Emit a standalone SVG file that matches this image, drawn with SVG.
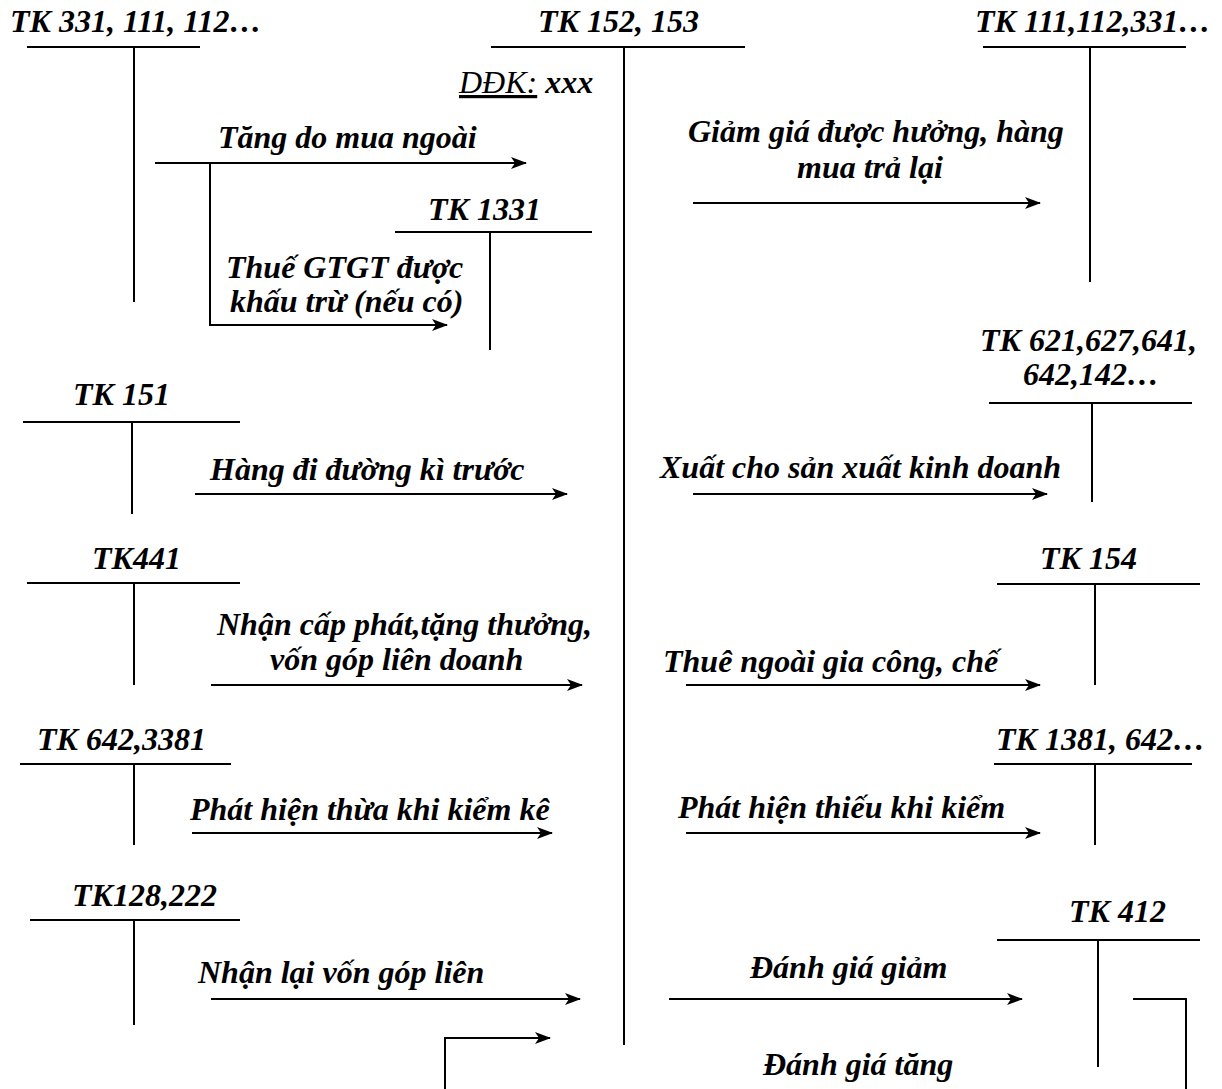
<svg xmlns="http://www.w3.org/2000/svg" width="1222" height="1089" viewBox="0 0 1222 1089">
<defs>
<style>
text{font-family:"Liberation Serif","Times New Roman",serif;font-style:italic;font-weight:bold;font-size:32px;fill:#000}
.ln{stroke:#000;stroke-width:2;fill:none}
.ar{stroke:#000;stroke-width:2;fill:none;marker-end:url(#ah)}
</style>
<marker id="ah" viewBox="0 0 16 12" refX="15" refY="6" markerWidth="16" markerHeight="12" markerUnits="userSpaceOnUse" orient="auto">
<path d="M0,0 L16,6 L0,12 L4,6 Z" fill="#000"/>
</marker>
</defs>
<rect width="1222" height="1089" fill="#fff"/>

<g id="tk331">
<text x="10" y="32">TK 331, 111, 112…</text>
<line class="ln" x1="27" y1="47" x2="200" y2="47"/>
<line class="ln" x1="134" y1="47" x2="134" y2="302"/>
</g>
<g id="tk152">
<text x="538" y="32">TK 152, 153</text>
<line class="ln" x1="491" y1="47" x2="745" y2="47"/>
<line class="ln" x1="624" y1="47" x2="624" y2="1045"/>
<text x="459" y="93"><tspan font-weight="normal" text-decoration="underline">DĐK:</tspan> xxx</text>
</g>
<g id="tk111">
<text x="975" y="32">TK 111,112,331…</text>
<line class="ln" x1="983" y1="47" x2="1186" y2="47"/>
<line class="ln" x1="1090" y1="47" x2="1090" y2="282"/>
</g>
<g id="tk1331">
<text x="428" y="220">TK 1331</text>
<line class="ln" x1="395" y1="232" x2="592" y2="232"/>
<line class="ln" x1="490" y1="232" x2="490" y2="350"/>
</g>
<g id="tk621">
<text x="980" y="351">TK 621,627,641,</text>
<text x="1023" y="385">642,142…</text>
<line class="ln" x1="989" y1="403" x2="1192" y2="403"/>
<line class="ln" x1="1092" y1="403" x2="1092" y2="502"/>
</g>
<g id="tk151">
<text x="73" y="405">TK 151</text>
<line class="ln" x1="23" y1="422" x2="240" y2="422"/>
<line class="ln" x1="132" y1="422" x2="132" y2="514"/>
</g>
<g id="tk441">
<text x="92" y="569">TK441</text>
<line class="ln" x1="27" y1="583" x2="240" y2="583"/>
<line class="ln" x1="134" y1="583" x2="134" y2="685"/>
</g>
<g id="tk154">
<text x="1040" y="569">TK 154</text>
<line class="ln" x1="997" y1="584" x2="1200" y2="584"/>
<line class="ln" x1="1095" y1="584" x2="1095" y2="685"/>
</g>
<g id="tk642">
<text x="37" y="750">TK 642,3381</text>
<line class="ln" x1="20" y1="764" x2="231" y2="764"/>
<line class="ln" x1="134" y1="764" x2="134" y2="845"/>
</g>
<g id="tk1381">
<text x="996" y="750">TK 1381, 642…</text>
<line class="ln" x1="994" y1="764" x2="1192" y2="764"/>
<line class="ln" x1="1095" y1="764" x2="1095" y2="845"/>
</g>
<g id="tk128">
<text x="72" y="906">TK128,222</text>
<line class="ln" x1="30" y1="920" x2="240" y2="920"/>
<line class="ln" x1="134" y1="920" x2="134" y2="1025"/>
</g>
<g id="tk412">
<text x="1069" y="922">TK 412</text>
<line class="ln" x1="997" y1="940" x2="1200" y2="940"/>
<line class="ln" x1="1098" y1="940" x2="1098" y2="1067"/>
</g>

<g id="connectors">
<line class="ar" x1="155" y1="163" x2="526" y2="163"/>
<text x="218" y="148">Tăng do mua ngoài</text>
<polyline class="ar" points="210,163 210,325 447,325"/>
<text x="226" y="278">Thuế GTGT được</text>
<text x="230" y="312">khấu trừ (nếu có)</text>
<line class="ar" x1="693" y1="203" x2="1040" y2="203"/>
<text x="688" y="142">Giảm giá được hưởng, hàng</text>
<text x="797" y="178">mua trả lại</text>
<line class="ar" x1="195" y1="494" x2="567" y2="494"/>
<text x="210" y="480">Hàng đi đường kì trước</text>
<line class="ar" x1="693" y1="494" x2="1047" y2="494"/>
<text x="660" y="478">Xuất cho sản xuất kinh doanh</text>
<line class="ar" x1="211" y1="685" x2="582" y2="685"/>
<text x="217" y="635">Nhận cấp phát,tặng thưởng,</text>
<text x="270" y="670">vốn góp liên doanh</text>
<line class="ar" x1="686" y1="685" x2="1040" y2="685"/>
<text x="663" y="672">Thuê ngoài gia công, chế</text>
<line class="ar" x1="192" y1="833" x2="552" y2="833"/>
<text x="190" y="820">Phát hiện thừa khi kiểm kê</text>
<line class="ar" x1="686" y1="833" x2="1040" y2="833"/>
<text x="678" y="818">Phát hiện thiếu khi kiểm</text>
<line class="ar" x1="211" y1="999" x2="580" y2="999"/>
<text x="198" y="983">Nhận lại vốn góp liên</text>
<line class="ar" x1="669" y1="999" x2="1022" y2="999"/>
<text x="750" y="978">Đánh giá giảm</text>
<polyline class="ar" points="445,1089 445,1038 550,1038"/>
<polyline class="ln" points="1133,999 1186,999 1186,1089"/>
<text x="763" y="1075">Đánh giá tăng</text>
</g>
</svg>
